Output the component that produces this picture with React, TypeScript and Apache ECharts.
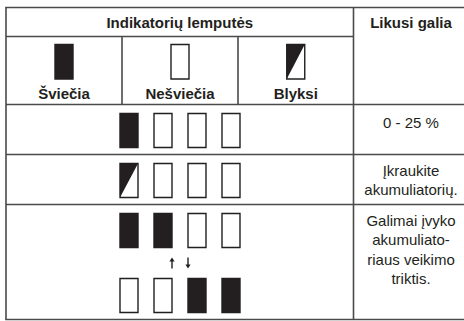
import React, { useEffect, useRef } from "react";
import * as echarts from "echarts";

// ---- data ----
const headerTitle = "Indikatorių lemputės";
const remainTitle = "Likusi galia";
const legendLabels = ["Šviečia", "Nešviečia", "Blyksi"];
const legendStates = ["on", "off", "blink"];
const rowStates: string[][] = [
  ["on", "off", "off", "off"],
  ["blink", "off", "off", "off"],
  ["on", "on", "off", "off"],
  ["off", "off", "on", "on"],
];
const remainTexts = [
  "0 - 25 %",
  "Įkraukite\nakumuliatorių.",
  "Galimai įvyko\nakumuliato-\nriaus veikimo\ntriktis.",
];

// ---- layout ----
const L = 6, R = 470, T = 7.5, B = 319.5;
const C1 = 122, C2 = 238, C3 = 353.5;
const H1 = 36.5, H2 = 104.5, H3 = 154.5, H4 = 204.5;
const LINE = "#4a4a4a";
const INK = "#231f20";
const IW = 18, IH = 34;
const FONT = "'Liberation Sans', Arial, sans-serif";

function lamp(state: string, x: number, y: number, h: number = IH): any[] {
  const out: any[] = [];
  if (state === "blink") {
    out.push({
      type: "polygon",
      shape: { points: [[x, y], [x + IW, y], [x, y + h]] },
      style: { fill: INK },
    });
  }
  out.push({
    type: "rect",
    shape: { x, y, width: IW, height: h },
    style: { fill: state === "on" ? INK : "transparent", stroke: INK, lineWidth: 1.4 },
  });
  return out;
}

function hline(y: number, x1: number, x2: number) {
  return { type: "line", shape: { x1, y1: y, x2, y2: y }, style: { stroke: LINE, lineWidth: 1.6 } };
}
function vline(x: number, y1: number, y2: number) {
  return { type: "line", shape: { x1: x, y1, x2: x, y2 }, style: { stroke: LINE, lineWidth: 1.6 } };
}
function text(t: string, x: number, y: number, bold: boolean, lh = 19.5) {
  return {
    type: "text",
    x,
    y,
    style: {
      text: t,
      fill: "#231f20",
      font: `${bold ? "bold " : ""}15px ${FONT}`,
      align: "center",
      verticalAlign: "middle",
      lineHeight: lh,
    },
  };
}

export default function App() {
  const ref = useRef<HTMLDivElement>(null);
  useEffect(() => {
    if (!ref.current) return;
    const chart = echarts.init(ref.current, null, { renderer: "svg" });
    const els: any[] = [];
    els.push({ type: "rect", shape: { x: 0, y: 0, width: 464, height: 321 }, style: { fill: "#fff" } });

    // header texts
    els.push(text(headerTitle, (L + C3) / 2, 22.5, true));
    els.push(text(remainTitle, 411, 22.5, true));
    const colCenters = [(L + C1) / 2, (C1 + C2) / 2, (C2 + C3) / 2];
    legendLabels.forEach((lab, i) => {
      els.push(text(lab, colCenters[i], 93, true));
      els.push(...lamp(legendStates[i], colCenters[i] - IW / 2, 44.5, 34.5));
    });

    // lamps
    const rowTops = [113.5, 163.5, 213.5, 278.5];
    rowStates.forEach((row, r) => {
      row.forEach((s, i) => {
        els.push(...lamp(s, 120 + 34 * i, rowTops[r]));
      });
    });

    // arrows
    const ax1 = 172, ax2 = 188, ay1 = 257.5, ay2 = 268.5;
    els.push({ type: "line", shape: { x1: ax1, y1: ay1 + 3, x2: ax1, y2: ay2 }, style: { stroke: INK, lineWidth: 1.4 } });
    els.push({ type: "polygon", shape: { points: [[ax1 - 2.6, ay1 + 4], [ax1 + 2.6, ay1 + 4], [ax1, ay1]] }, style: { fill: INK } });
    els.push({ type: "line", shape: { x1: ax2, y1: ay1, x2: ax2, y2: ay2 - 3 }, style: { stroke: INK, lineWidth: 1.4 } });
    els.push({ type: "polygon", shape: { points: [[ax2 - 2.6, ay2 - 4], [ax2 + 2.6, ay2 - 4], [ax2, ay2]] }, style: { fill: INK } });

    // right column texts
    els.push(text(remainTexts[0], 411, 122, false));
    els.push(text(remainTexts[1], 411, 179.5, false, 19));
    els.push(text(remainTexts[2], 411, 249.5, false, 19.5));

    // grid lines
    els.push(hline(T, L - 0.8, R));
    els.push(hline(H1, L, C3));
    els.push(hline(H2, L, R));
    els.push(hline(H3, L, R));
    els.push(hline(H4, L, R));
    els.push(hline(B, L - 0.8, R));
    els.push(vline(L, T, B));
    els.push(vline(C3, T, B));
    els.push(vline(C1, H1, H2));
    els.push(vline(C2, H1, H2));

    chart.setOption({ animation: false, graphic: { elements: els } });
    return () => chart.dispose();
  }, []);
  return (
    <div
      ref={ref}
      style={{ position: "fixed", left: 0, top: 0, width: 464, height: 321, background: "#fff" }}
    />
  );
}
